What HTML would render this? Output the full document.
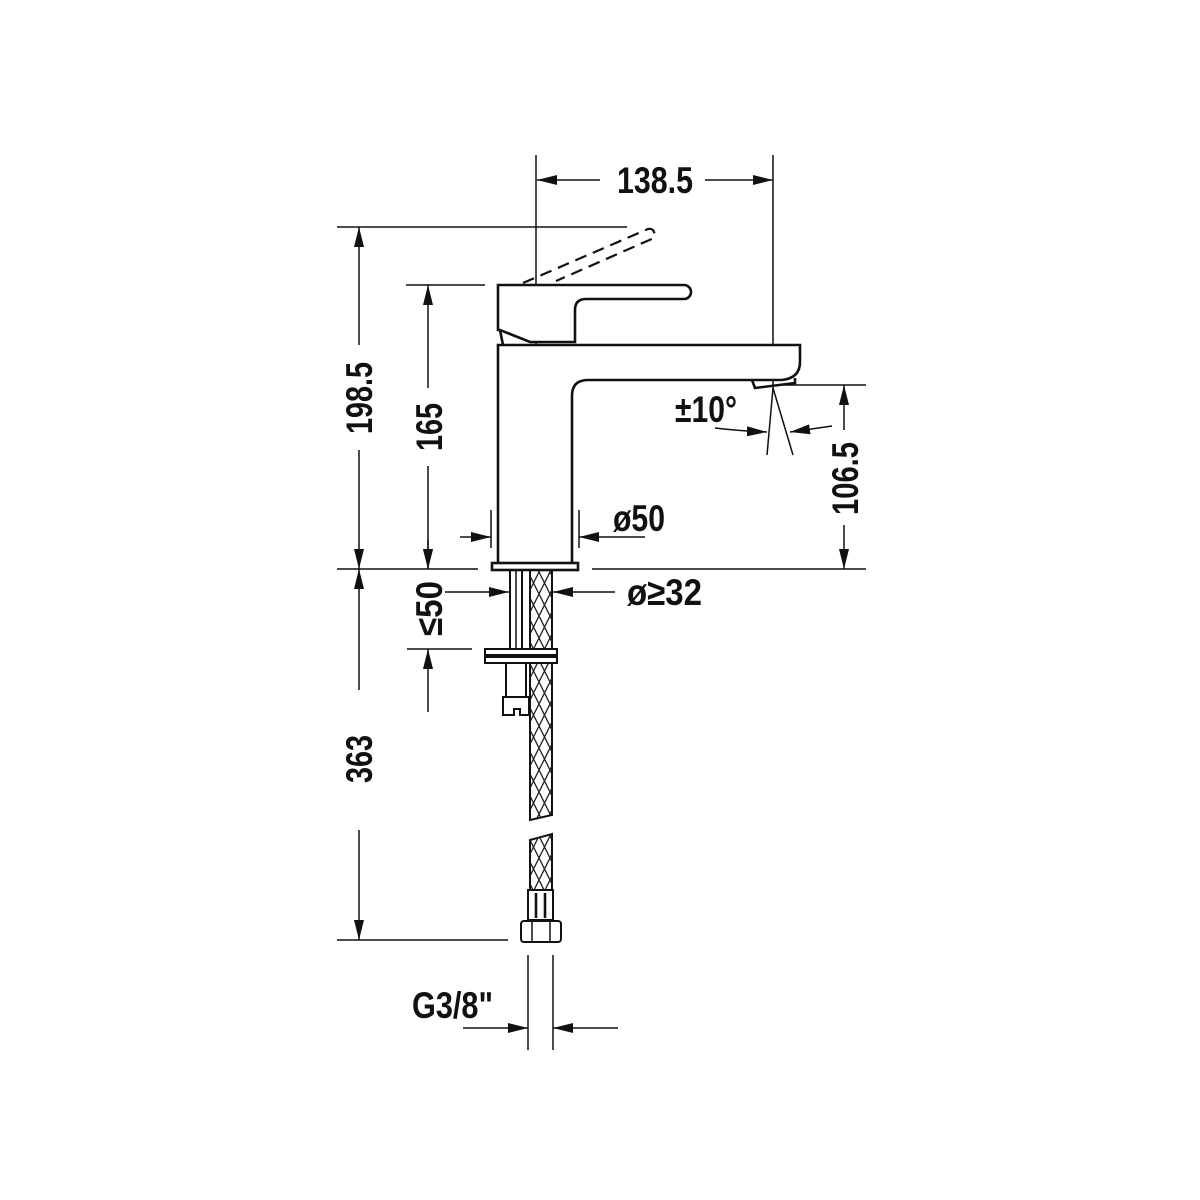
<!DOCTYPE html>
<html><head><meta charset="utf-8"><style>
html,body{margin:0;padding:0;background:#fff;}
svg{display:block;}
text{font-family:"Liberation Sans Narrow","Liberation Sans",sans-serif;font-weight:bold;font-size:37px;fill:#111;}
</style></head><body>
<svg width="1200" height="1200" viewBox="0 0 1200 1200" xmlns="http://www.w3.org/2000/svg">
<defs>
<pattern id="h" width="11" height="22" patternUnits="userSpaceOnUse">
<path d="M0,0 L11,22 M11,0 L0,22" stroke="#222" stroke-width="1.3"/>
</pattern>
<marker id="a" viewBox="0 0 20 10" refX="20" refY="5" markerWidth="20" markerHeight="10" markerUnits="userSpaceOnUse" orient="auto"><path d="M0,0 L20,5 L0,10 Z" fill="#111"/></marker>
</defs>
<g stroke="#111" fill="none" stroke-width="1.5">
<line x1="536" y1="155" x2="536" y2="290"/>
<line x1="536" y1="290" x2="536" y2="570" stroke-dasharray="14,6"/>
<line x1="773" y1="155" x2="773" y2="388"/>
<line x1="600" y1="180" x2="537" y2="180" marker-end="url(#a)"/>
<line x1="705" y1="180" x2="773" y2="180" marker-end="url(#a)"/>
<line x1="337" y1="227" x2="627" y2="227"/>
<line x1="406" y1="285" x2="485" y2="285"/>
<line x1="337" y1="569" x2="478" y2="569"/>
<line x1="592" y1="569" x2="866" y2="569"/>
<line x1="783" y1="385" x2="866" y2="385"/>
<line x1="359" y1="345" x2="359" y2="227" marker-end="url(#a)"/>
<line x1="359" y1="450" x2="359" y2="569" marker-end="url(#a)"/>
<line x1="428" y1="388" x2="428" y2="285" marker-end="url(#a)"/>
<line x1="428" y1="466" x2="428" y2="569" marker-end="url(#a)"/>
<line x1="844" y1="430" x2="844" y2="385" marker-end="url(#a)"/>
<line x1="844" y1="525" x2="844" y2="569" marker-end="url(#a)"/>
<line x1="359" y1="690" x2="359" y2="569" marker-end="url(#a)"/>
<line x1="359" y1="830" x2="359" y2="940" marker-end="url(#a)"/>
<line x1="337" y1="940" x2="508" y2="940"/>
<line x1="428" y1="540" x2="428" y2="569" marker-end="url(#a)"/>
<line x1="407" y1="649" x2="472" y2="649"/>
<line x1="428" y1="712" x2="428" y2="649" marker-end="url(#a)"/>
<line x1="491" y1="510" x2="491" y2="548"/>
<line x1="579" y1="510" x2="579" y2="548"/>
<line x1="460" y1="537" x2="491" y2="537" marker-end="url(#a)"/>
<line x1="645" y1="537" x2="579" y2="537" marker-end="url(#a)"/>
<line x1="445" y1="592" x2="509" y2="592" marker-end="url(#a)"/>
<line x1="615" y1="592" x2="553" y2="592" marker-end="url(#a)"/>
<line x1="773" y1="388" x2="767" y2="455"/>
<line x1="773" y1="388" x2="793" y2="455"/>
<path d="M715,428 Q740,431 767,432" marker-end="url(#a)"/>
<path d="M832,426 Q812,429 790,432" marker-end="url(#a)"/>
<line x1="528" y1="955" x2="528" y2="1050"/>
<line x1="553" y1="955" x2="553" y2="1050"/>
<line x1="463" y1="1028" x2="528" y2="1028" marker-end="url(#a)"/>
<line x1="618" y1="1028" x2="553" y2="1028" marker-end="url(#a)"/>
</g>
<g stroke="#111" fill="none" stroke-width="2.6">
<path d="M523,283 L648,229 Q656,228 654,238 L556,281" stroke-dasharray="12,7" stroke-width="2.2"/>
<path d="M498,330 L498,285 L684,285 A7,7 0 0 1 684,299 L586,299 Q575,299 575,310 L575,342 L530,342 L500,330 Z" fill="#fff"/>
<path d="M500,330 L503,345"/>
<path d="M498,563 L498,345 L800,345 L800,362 Q800,378 782,380 L588,380 Q572,380 572,396 L572,563" fill="#fff"/>
<path d="M752,380 L755,388 L795,383 L795,378"/>
<rect x="492" y="563" width="86" height="7" fill="#fff"/>
<rect x="510" y="570" width="12" height="80" stroke-width="2"/>
<line x1="516" y1="570" x2="516" y2="650" stroke-width="1.5"/>
<path d="M530,570 L552,570 L552,815 L530,820 Z" fill="url(#h)" stroke-width="2"/>
<path d="M530,840 L552,834 L552,890 L530,890 Z" fill="url(#h)" stroke-width="2"/>
<rect x="485" y="649" width="72" height="6" fill="#fff" stroke-width="2"/>
<rect x="485" y="657" width="72" height="6" fill="#fff" stroke-width="2"/>
<rect x="506" y="663" width="20" height="34" fill="#fff" stroke-width="2"/>
<path d="M503,697 L529,697 L529,715 L520,715 L520,709 L514,709 L514,715 L503,715 Z" fill="#fff" stroke-width="2"/>
<rect x="528" y="890" width="25" height="30" fill="#fff" stroke-width="2"/>
<line x1="536" y1="893" x2="536" y2="918"/><line x1="545" y1="893" x2="545" y2="918"/>
<rect x="521" y="921" width="40" height="21" rx="3" fill="#fff" stroke-width="2"/>
<line x1="532" y1="921" x2="532" y2="942" stroke-width="1.5"/><line x1="550" y1="921" x2="550" y2="942" stroke-width="1.5"/>
</g>
<text x="617" y="193" textLength="76" lengthAdjust="spacingAndGlyphs">138.5</text>
<text transform="translate(372,434) rotate(-90)" textLength="72" lengthAdjust="spacingAndGlyphs">198.5</text>
<text transform="translate(442,451) rotate(-90)" textLength="48" lengthAdjust="spacingAndGlyphs">165</text>
<text transform="translate(858,515) rotate(-90)" textLength="73" lengthAdjust="spacingAndGlyphs">106.5</text>
<text transform="translate(372,783) rotate(-90)" textLength="48" lengthAdjust="spacingAndGlyphs">363</text>
<text transform="translate(442,636) rotate(-90)" textLength="55" lengthAdjust="spacingAndGlyphs">≤50</text>
<text x="675" y="422" textLength="62" lengthAdjust="spacingAndGlyphs">±10°</text>
<text x="613" y="531" textLength="52" lengthAdjust="spacingAndGlyphs">ø50</text>
<text x="627" y="605" textLength="75" lengthAdjust="spacingAndGlyphs">ø≥32</text>
<text x="412" y="1018" textLength="81" lengthAdjust="spacingAndGlyphs">G3/8"</text>
</svg>
</body></html>
